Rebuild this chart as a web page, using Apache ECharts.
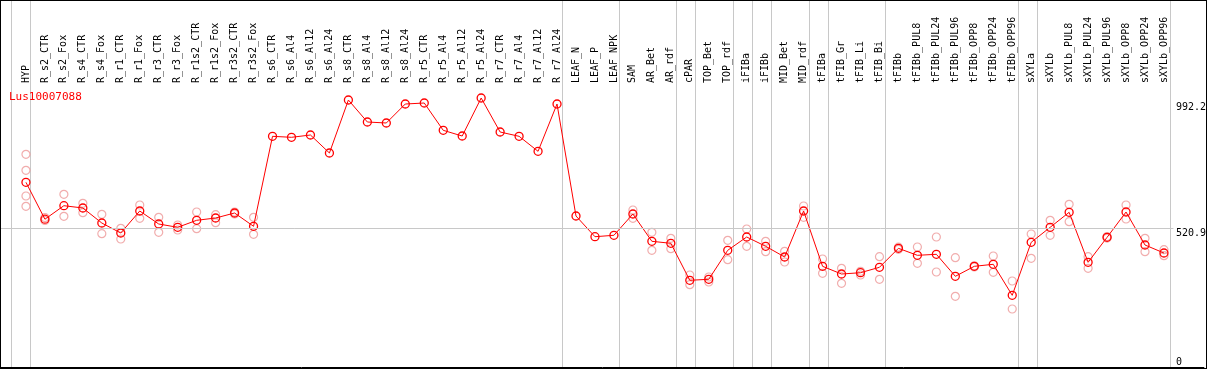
<!DOCTYPE html>
<html>
<head>
<meta charset="utf-8">
<script src="https://cdn.jsdelivr.net/npm/echarts@6/dist/echarts.min.js"></script>
<style>
  html, body { margin: 0; padding: 0; background: #fff; }
  #chart { position: absolute; left: 0; top: 0; width: 1209px; height: 370px; }
  #frame { position: absolute; left: 0; top: 0; width: 1205px; height: 367px; border: 1px solid #000; pointer-events: none; }
</style>
</head>
<body>
<div id="chart"></div>
<div id="frame"></div>
<script>
const geneId = 'Lus10007088';

const categories = [
  'HYP', 'R_s2_CTR', 'R_s2_Fox', 'R_s4_CTR', 'R_s4_Fox', 'R_r1_CTR', 'R_r1_Fox', 'R_r3_CTR', 'R_r3_Fox',
  'R_r1s2_CTR', 'R_r1s2_Fox', 'R_r3s2_CTR', 'R_r3s2_Fox', 'R_s6_CTR', 'R_s6_Al4', 'R_s6_Al12', 'R_s6_Al24',
  'R_s8_CTR', 'R_s8_Al4', 'R_s8_Al12', 'R_s8_Al24', 'R_r5_CTR', 'R_r5_Al4', 'R_r5_Al12', 'R_r5_Al24',
  'R_r7_CTR', 'R_r7_Al4', 'R_r7_Al12', 'R_r7_Al24', 'LEAF_N', 'LEAF_P', 'LEAF_NPK', 'SAM', 'AR_Bet', 'AR_rdf',
  'cPAR', 'TOP_Bet', 'TOP_rdf', 'iFIBa', 'iFIBb', 'MID_Bet', 'MID_rdf', 'tFIBa', 'tFIB_Gr', 'tFIB_Li', 'tFIB_Bi',
  'tFIBb', 'tFIBb_PUL8', 'tFIBb_PUL24', 'tFIBb_PUL96', 'tFIBb_OPP8', 'tFIBb_OPP24', 'tFIBb_OPP96',
  'sXYLa', 'sXYLb', 'sXYLb_PUL8', 'sXYLb_PUL24', 'sXYLb_PUL96', 'sXYLb_OPP8', 'sXYLb_OPP24', 'sXYLb_OPP96'
];

// mean expression per sample
const means = [
  693.6, 555.0, 605.7, 597.1, 540.7, 503.2, 585.8, 537.0, 524.6,
  550.9, 559.5, 578.3, 528.4, 866.3, 862.6, 871.2, 803.6,
  1002.6, 920.0, 916.3, 987.6, 991.4, 888.8, 867.4, 1010.1,
  882.5, 866.3, 810.0, 987.6, 567.0, 489.3, 494.6, 574.5, 472.0, 464.5,
  325.6, 329.3, 438.2, 488.2, 453.3, 413.1, 585.8, 378.1, 349.2, 354.1, 374.4,
  445.7, 419.4, 423.2, 340.6, 378.1, 385.7, 269.2,
  468.3, 524.6, 580.9, 393.2, 487.0, 582.0, 458.1, 428.1
];

// individual replicates (faded circles)
const replicates = [
  [798.7, 738.6, 642.1, 603.5], [561.5, 550.2], [648.5, 565.9], [614.7, 579.4], [573.4, 500.6],
  [520.8, 480.7], [608.3, 558.4], [562.1, 505.8], [533.2, 514.5], [582.0, 519.3], [571.9, 541.9],
  [582.0, 574.5], [562.1, 498.3],
  [], [], [], [], [], [], [], [], [], [], [], [], [], [], [], [], [], [], [],
  [589.6, 558.4], [505.8, 438.2], [483.3, 444.2], [345.5, 309.0], [338.0, 319.2], [475.8, 402.9],
  [518.2, 453.3], [472.0, 433.0], [434.5, 394.3], [604.6, 562.1], [405.6, 351.9], [370.6, 314.3],
  [359.4, 345.5], [414.2, 329.3], [450.0, 442.0], [450.6, 389.4], [488.2, 356.7], [410.4, 265.5],
  [380.0, 376.0], [416.8, 355.6], [322.9, 217.8], [499.4, 408.2], [550.9, 494.6], [611.0, 545.6],
  [414.2, 370.6], [490.0, 484.0], [608.3, 555.8], [483.3, 433.0], [440.5, 418.0]
];

// index of the last sample of each group (separator drawn just after it)
const groupEnds = [-1, 0, 28, 31, 34, 35, 37, 38, 39, 41, 42, 45, 52, 53, 60];
const refValue = 520.9;
const topValue = 992.2;

const font = 'DejaVu Sans Mono';
const xMin = -25 / 19;
const xMax = xMin + 1205 / 19;

const repData = [];
replicates.forEach((reps, i) => reps.forEach(v => repData.push([i, v])));

const chart = echarts.init(document.getElementById('chart'));

const option = {
  animation: false,
  backgroundColor: '#fff',
  title: {
    text: geneId,
    left: 9,
    top: 92,
    padding: 0,
    textStyle: { color: '#ff0000', fontSize: 11, fontWeight: 'normal', fontFamily: font }
  },
  grid: [
    { left: 1, right: 3, top: 0, bottom: 3 },
    { left: 1, right: 3, top: 85, bottom: 3 }
  ],
  xAxis: [
    { type: 'value', gridIndex: 0, min: xMin, max: xMax, show: false },
    {
      type: 'value',
      gridIndex: 1,
      position: 'top',
      min: xMin,
      max: xMax,
      axisLine: { lineStyle: { color: '#000', width: 1 } },
      axisTick: { show: false },
      splitLine: { show: false },
      axisLabel: {
        customValues: categories.map((c, i) => i),
        formatter: v => categories[Math.round(v)],
        rotate: 90,
        margin: 2,
        color: '#000',
        fontSize: 10,
        fontFamily: font
      }
    }
  ],
  yAxis: [
    { type: 'value', gridIndex: 0, min: 0, max: 1, show: false },
    {
      type: 'value',
      gridIndex: 1,
      position: 'right',
      min: 0,
      max: 1059,
      axisLine: { show: false },
      axisTick: { show: false },
      splitLine: { show: false },
      axisLabel: {
        customValues: [refValue, topValue],
        formatter: v => String(v),
        inside: true,
        align: 'left',
        verticalAlign: 'top',
        margin: 28,
        color: '#000',
        fontSize: 10,
        fontFamily: font
      }
    },
    {
      type: 'value',
      gridIndex: 1,
      position: 'right',
      min: 0,
      max: 1059,
      axisLine: { show: false },
      axisTick: { show: false },
      splitLine: { show: false },
      axisLabel: {
        customValues: [0],
        formatter: v => String(v),
        inside: true,
        align: 'left',
        verticalAlign: 'bottom',
        margin: 28,
        color: '#000',
        fontSize: 10,
        fontFamily: font
      }
    }
  ],
  series: [
    {
      // group separators, full height
      type: 'custom',
      xAxisIndex: 0,
      yAxisIndex: 0,
      silent: true,
      z: 1,
      data: groupEnds.map(g => [g + 0.24]),
      renderItem: (params, api) => {
        const x = Math.floor(api.coord([api.value(0), 0])[0]) + 0.5;
        const cs = params.coordSys;
        return {
          type: 'line',
          shape: { x1: x, y1: cs.y, x2: x, y2: cs.y + cs.height },
          style: { stroke: '#c8c8c8', lineWidth: 1 }
        };
      }
    },
    {
      type: 'scatter',
      xAxisIndex: 1,
      yAxisIndex: 1,
      z: 2,
      data: repData,
      symbol: 'circle',
      symbolSize: 8,
      itemStyle: { color: 'transparent', borderColor: '#ee9999', borderWidth: 1.2 },
      markLine: {
        silent: true,
        symbol: 'none',
        label: { show: false },
        lineStyle: { color: '#c8c8c8', type: 'solid', width: 1 },
        data: [[{ coord: [xMin, refValue] }, { coord: [60.5, refValue] }]]
      }
    },
    {
      type: 'line',
      xAxisIndex: 1,
      yAxisIndex: 1,
      z: 3,
      data: means.map((v, i) => [i, v]),
      symbol: 'circle',
      symbolSize: 8,
      lineStyle: { color: '#ff0000', width: 1 },
      itemStyle: { color: 'transparent', borderColor: '#ff0000', borderWidth: 1.3 }
    }
  ]
};

chart.setOption(option);
</script>
</body>
</html>
